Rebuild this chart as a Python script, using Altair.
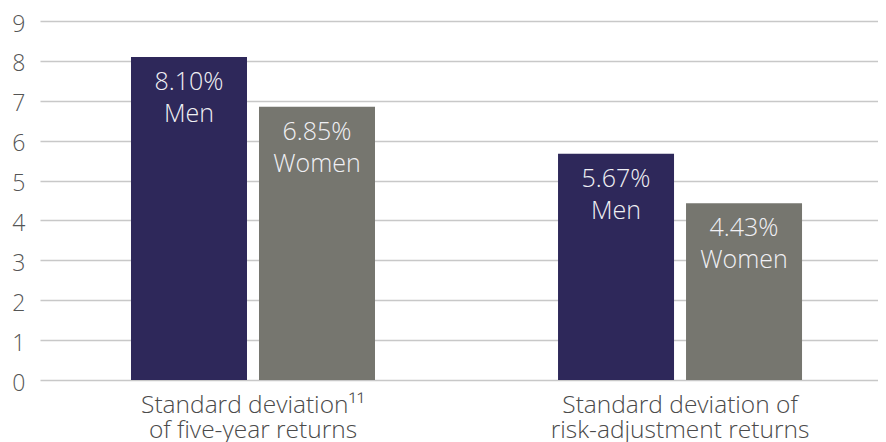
import altair as alt
import pandas as pd

categories = ["Standard deviation¹¹\nof five-year returns",
              "Standard deviation of\nrisk-adjustment returns"]
genders = ["Men", "Women"]
values = [[8.10, 6.85], [5.67, 4.43]]
y_ticks = list(range(0, 10))

rows = []
for ci, cat in enumerate(categories):
    for gi, g in enumerate(genders):
        v = values[ci][gi]
        rows.append({"cat": cat, "gender": g, "value": v,
                     "label": f"{v:.2f}%\n{g}"})
df = pd.DataFrame(rows)

FONT = "Open Sans"

x_enc = alt.X("cat:N", sort=categories, title=None,
              scale=alt.Scale(paddingInner=0.4286, paddingOuter=0.1955, align=0.545),
              axis=alt.Axis(labelAngle=0, domain=False, ticks=False,
                            labelExpr="split(datum.label, '\\n')",
                            labelFont=FONT, labelFontWeight=300, labelFontSize=24.5,
                            labelColor="#4a4a4a", labelPadding=13, labelLimit=0,
                            labelOverlap=False,
                            labelLineHeight=25, labelBaseline="top"))
xoff = alt.XOffset("gender:N", sort=genders,
                   scale=alt.Scale(paddingInner=0.09375, paddingOuter=0))
y_enc = alt.Y("value:Q", title=None,
              scale=alt.Scale(domain=[0, 9], nice=False),
              axis=alt.Axis(values=y_ticks, tickCount=10, domain=False, ticks=False,
                            labelOverlap=False, labelOffset=3,
                            gridColor="#c8c8c8", gridWidth=1.5,
                            labelFont=FONT, labelFontWeight=300, labelFontSize=23,
                            labelColor="#555555", labelPadding=15))

base = alt.Chart(df).encode(x=x_enc, xOffset=xoff, y=y_enc)

bars = base.mark_bar().encode(
    color=alt.Color("gender:N", sort=genders, legend=None,
                    scale=alt.Scale(domain=genders, range=["#2e285a", "#76766f"])),
)

text = base.mark_text(
    font=FONT, fontWeight=300, fontSize=25, color="#f0f0f4",
    baseline="alphabetic", align="center", dy=33, lineBreak="\n", lineHeight=32,
).encode(text="label:N")

chart = (bars + text).properties(
    width=838, height=359,
    autosize=alt.AutoSizeParams(type="none"),
    padding={"left": 32, "top": 13, "right": 0, "bottom": 62},
).configure_view(stroke=None)

chart.save("out.html", embed_options={"renderer": "svg", "actions": False})
